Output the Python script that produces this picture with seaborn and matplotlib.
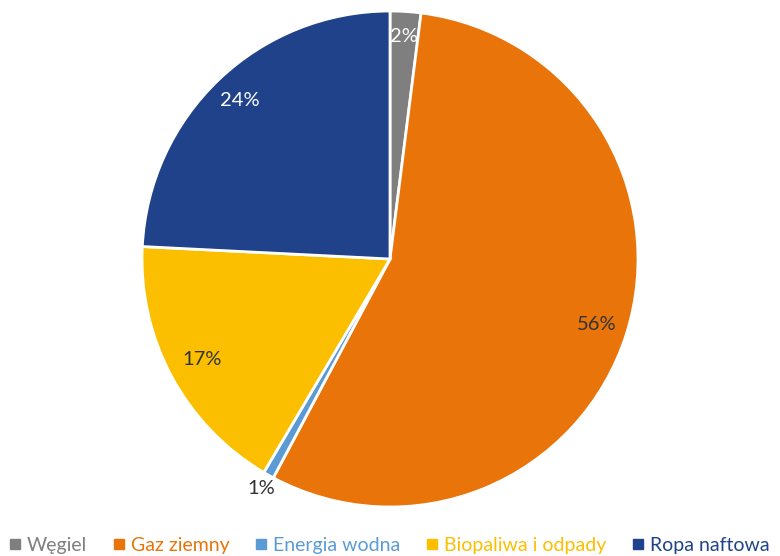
import matplotlib
matplotlib.use("Agg")
import matplotlib.pyplot as plt
import seaborn as sns
import numpy as np
from matplotlib.lines import Line2D

categories = ["Węgiel", "Gaz ziemny", "Energia wodna", "Biopaliwa i odpady", "Ropa naftowa"]
values = [2.0, 55.8, 0.7, 17.3, 24.2]
labels = ["2%", "56%", "1%", "17%", "24%"]

colors = sns.color_palette(["#7F7F7F", "#E8740A", "#5B9BD5", "#FBBF00", "#1F428A"])
label_colors = ["white", "#333333", "#333333", "#333333", "white"]
label_radius = [0.90, 0.875, 1.06, 0.86, 0.88]

sns.set_theme(style="white")
plt.rcParams['font.family'] = ['Lato', 'DejaVu Sans']

fig = plt.figure(figsize=(7.8, 5.56), dpi=100)
cx, cy, r = 390, 259, 248
ax = fig.add_axes([(cx - r) / 780, (556 - cy - r) / 556, 2 * r / 780, 2 * r / 556])

wedges, _ = ax.pie(values, colors=colors, startangle=90, counterclock=False,
                   wedgeprops=dict(edgecolor="white", linewidth=2))
ax.set_xlim(-1, 1)
ax.set_ylim(-1, 1)
ax.set_aspect("equal")
ax.axis("off")

for w, lab, col, rad in zip(wedges, labels, label_colors, label_radius):
    ang = np.deg2rad((w.theta1 + w.theta2) / 2)
    ax.text(rad * np.cos(ang), rad * np.sin(ang), lab, ha="center", va="center",
            fontsize=14.5, color=col, clip_on=False)

handles = [Line2D([0], [0], marker="s", linestyle="", markersize=6.5,
                  markerfacecolor=c, markeredgecolor=c) for c in colors]
leg = fig.legend(handles, categories, loc="center", bbox_to_anchor=(0.5, 1 - 545 / 556),
                 ncol=5, frameon=False, fontsize=14, handlelength=0.5,
                 handletextpad=0.35, columnspacing=1.4, borderpad=0.1,
                 labelcolor=list(colors))

fig.savefig("out.png", dpi=100)
